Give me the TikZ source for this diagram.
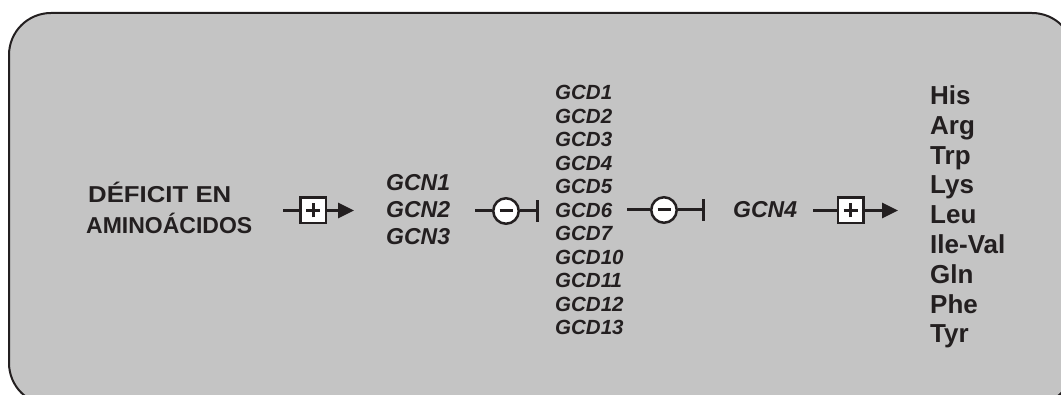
\documentclass[tikz,border=0pt]{standalone}
\usepackage{fontspec}
\usepackage{graphicx}
\setmainfont{Liberation Sans}
\usetikzlibrary{arrows.meta}
\definecolor{bg}{RGB}{196,196,196}
\definecolor{ink}{RGB}{35,31,32}
\begin{document}
\begin{tikzpicture}[x=1pt,y=-1pt,
  lbl/.style={inner sep=0pt, anchor=base west, text=ink, font=\bfseries\fontsize{23}{27}\selectfont},
  gene/.style={lbl, font=\bfseries\itshape\fontsize{23}{27}\selectfont},
  gcd/.style={lbl, font=\bfseries\itshape\fontsize{20.5}{24}\selectfont},
  aa/.style={lbl, font=\bfseries\fontsize{26}{30}\selectfont},
  plusbox/.style={draw=ink, fill=white, line width=2.5pt, minimum width=25.5pt, minimum height=25.5pt, inner sep=0pt},
  minuscirc/.style={draw=ink, fill=white, circle, line width=2.5pt, minimum size=25.5pt, inner sep=0pt},
  conn/.style={draw=ink, line width=3pt},
  act/.style={conn, -{Triangle[length=16pt,width=15pt]}},
  sign/.style={draw=ink, line width=3pt},
]
\useasboundingbox (0,0) rectangle (1061,395);
\begin{scope}
  \clip (0,0) rectangle (1061,395);
  \draw[draw=ink, fill=bg, line width=2pt, rounded corners=42pt] (9,13) rectangle (1074,405);
\end{scope}

% left label
\node[lbl] (def1) at (88,203) {\scalebox{1.12}[1]{DÉFICIT EN}};
\node[lbl] (def2) at (86,234) {AMINOÁCIDOS};

% GCN1-3
\node[gene] (gcn1) at (386,191) {GCN1};
\node[gene] (gcn2) at (386,218) {GCN2};
\node[gene] (gcn3) at (386,245) {GCN3};

% GCD list
\foreach \t [count=\i from 0] in {GCD1,GCD2,GCD3,GCD4,GCD5,GCD6,GCD7,GCD10,GCD11,GCD12,GCD13}
  \node[gcd] (gcd\i) at (555,{100+23.5*\i}) {\t};

% GCN4
\node[gene] (gcn4) at (733,218) {GCN4};

% amino acids
\foreach \t [count=\i from 0] in {His,Arg,Trp,Lys,Leu,Ile-Val,Gln,Phe,Tyr}
  \node[aa] (aa\i) at (930,{104.5+29.8*\i}) {\t};

% first activation
\coordinate (s1) at (283,210.5);
\node[plusbox] (p1) at (313,210.5) {};
\coordinate (t1) at (354,210.5);
\draw[conn] (s1) -- (p1.west);
\draw[act] (p1.east) -- (t1);
\draw[sign] ([xshift=-7pt]p1.center) -- ([xshift=7pt]p1.center);
\draw[sign] ([yshift=-7pt]p1.center) -- ([yshift=7pt]p1.center);

% first inhibition
\coordinate (s2) at (475,211);
\node[minuscirc] (m1) at (506,211) {};
\coordinate (b1) at (537,211);
\draw[conn] (s2) -- (m1.west);
\draw[conn] (m1.east) -- (b1);
\draw[sign] ([yshift=-11pt]b1) -- ([yshift=11pt]b1);
\draw[sign] ([xshift=-6.5pt]m1.center) -- ([xshift=6.5pt]m1.center);

% second inhibition
\coordinate (s3) at (627,210);
\node[minuscirc] (m2) at (664,210) {};
\coordinate (b2) at (703,210);
\draw[conn] (s3) -- (m2.west);
\draw[conn] (m2.east) -- (b2);
\draw[sign] ([yshift=-11pt]b2) -- ([yshift=11pt]b2);
\draw[sign] ([xshift=-6.5pt]m2.center) -- ([xshift=6.5pt]m2.center);

% second activation
\coordinate (s4) at (813,210.5);
\node[plusbox] (p2) at (850.5,210.5) {};
\coordinate (t2) at (898,210.5);
\draw[conn] (s4) -- (p2.west);
\draw[act] (p2.east) -- (t2);
\draw[sign] ([xshift=-7pt]p2.center) -- ([xshift=7pt]p2.center);
\draw[sign] ([yshift=-7pt]p2.center) -- ([yshift=7pt]p2.center);
\end{tikzpicture}
\end{document}
